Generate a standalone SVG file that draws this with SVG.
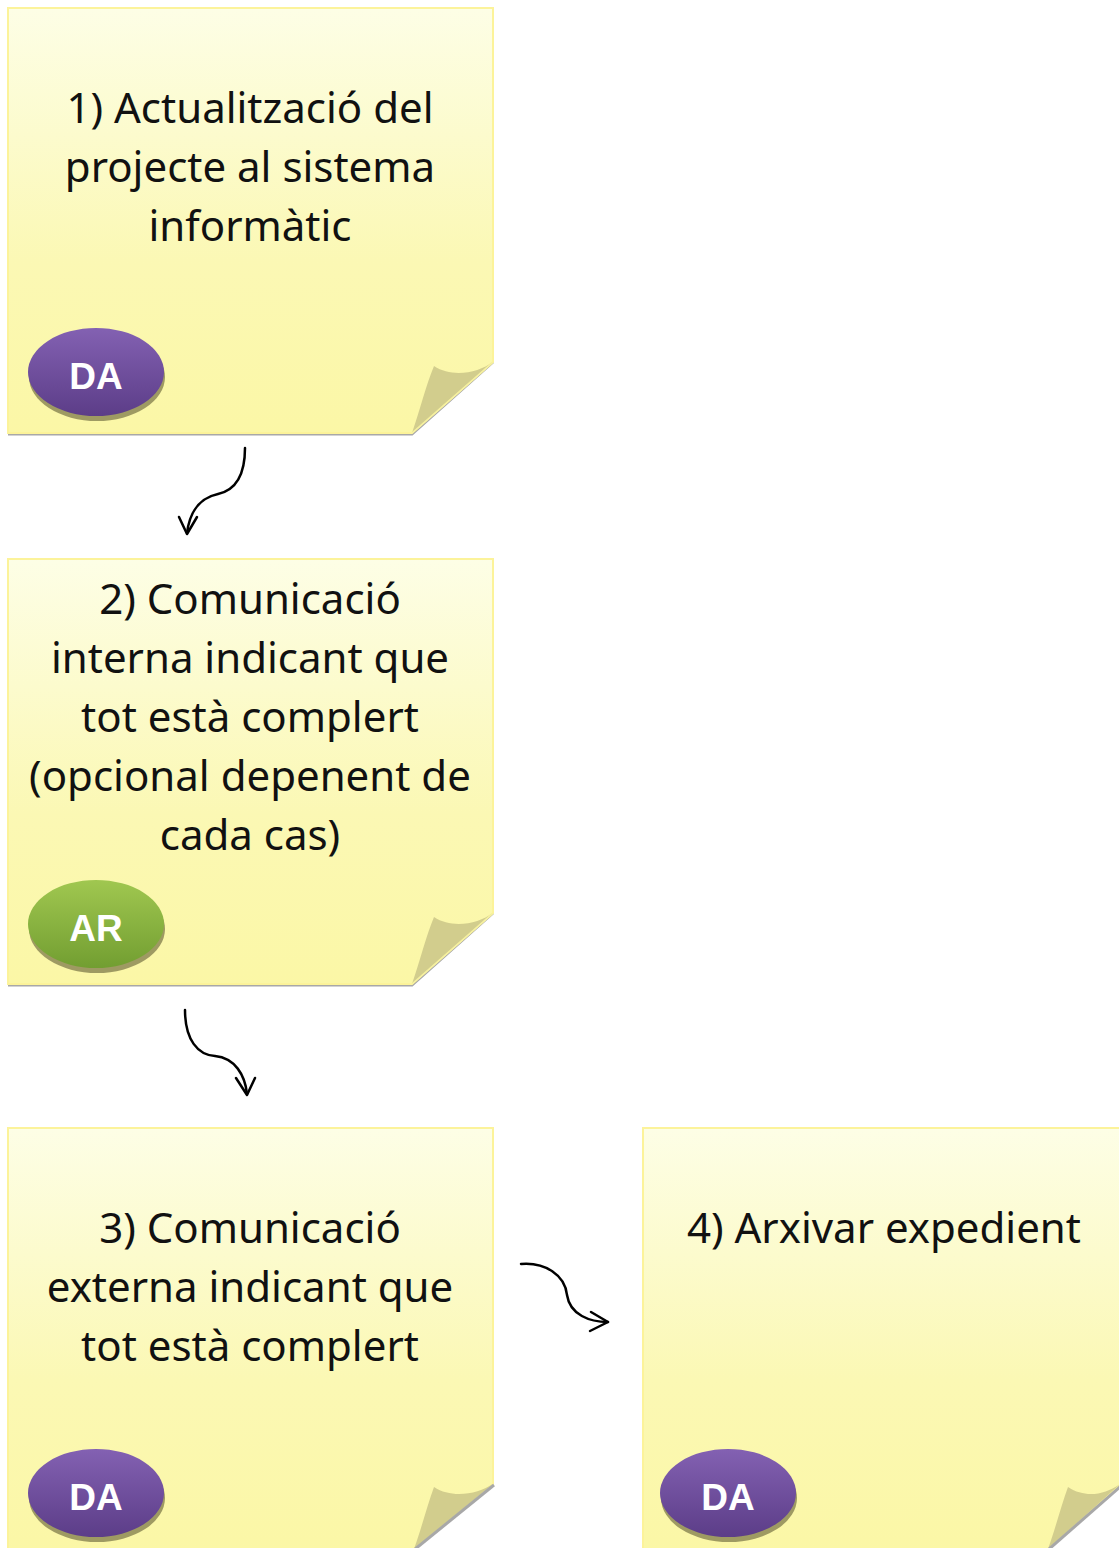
<svg xmlns="http://www.w3.org/2000/svg" width="1119" height="1548" viewBox="0 0 1119 1548">
<defs>
<linearGradient id="paper" x1="0" y1="0" x2="0" y2="1">
<stop offset="0" stop-color="#FDFEE6"/>
<stop offset="0.6" stop-color="#FBF8B4"/>
<stop offset="1" stop-color="#FBF7A6"/>
</linearGradient>
<linearGradient id="purple" x1="0" y1="0" x2="0" y2="1">
<stop offset="0" stop-color="#8361B2"/>
<stop offset="1" stop-color="#5C3D88"/>
</linearGradient>
<linearGradient id="green" x1="0" y1="0" x2="0" y2="1">
<stop offset="0" stop-color="#A0C750"/>
<stop offset="1" stop-color="#729E31"/>
</linearGradient>
</defs>
<style>
.note{fill:url(#paper);stroke:#FCF39A;stroke-width:2}
.shadow{fill:none;stroke:#A8A8A8;stroke-width:3}
.curl{fill:#D2CD8D}
.curlEdge{fill:none;stroke:#F6F1A0;stroke-width:1.5}
.txt{font-family:"Noto Sans","Open Sans",sans-serif;font-size:42px;fill:#111;text-anchor:middle}
.badge{font-family:"Liberation Sans",Arial,sans-serif;font-weight:bold;font-size:37px;fill:#fff;text-anchor:middle}
.bshadow{fill:#9E9A62}
.conn{fill:none;stroke:#000;stroke-width:2.5;stroke-linecap:round;stroke-linejoin:round}
</style>

<g id="node1">
<path class="shadow" d="M8,434 H412 L493,362"/>
<path class="note" d="M8,8 H493 V362 L412,433 H8 Z"/>
<path class="curl" d="M412,433 C420,410 426,385 434,366 C452,378 478,373 493,362 Z"/>
<path class="curlEdge" d="M412,433 L493,362"/>
<text class="txt" x="250" y="123">1) Actualització del</text>
<text class="txt" x="250" y="182">projecte al sistema</text>
<text class="txt" x="250" y="241">informàtic</text>
<ellipse class="bshadow" cx="97" cy="377" rx="68" ry="44"/>
<ellipse cx="96" cy="372" rx="68" ry="44" fill="url(#purple)"/>
<text class="badge" x="96" y="389">DA</text>
</g>

<g id="node2">
<path class="shadow" d="M8,985 H412 L493,913"/>
<path class="note" d="M8,559 H493 V913 L412,984 H8 Z"/>
<path class="curl" d="M412,984 C420,961 426,936 434,917 C452,929 478,924 493,913 Z"/>
<path class="curlEdge" d="M412,984 L493,913"/>
<text class="txt" x="250" y="614">2) Comunicació</text>
<text class="txt" x="250" y="673">interna indicant que</text>
<text class="txt" x="250" y="732">tot està complert</text>
<text class="txt" x="250" y="791">(opcional depenent de</text>
<text class="txt" x="250" y="850">cada cas)</text>
<ellipse class="bshadow" cx="97" cy="929" rx="68" ry="44"/>
<ellipse cx="96" cy="924" rx="68" ry="44" fill="url(#green)"/>
<text class="badge" x="96" y="941">AR</text>
</g>

<g id="node3">
<path class="note" d="M8,1128 H493 V1484 L414,1549 H8 Z"/>
<path class="curl" d="M414,1549 C421,1530 427,1506 434,1487 C452,1499 478,1494 493,1484 Z"/>
<path class="shadow" d="M414,1550 L494,1485"/>
<text class="txt" x="250" y="1243">3) Comunicació</text>
<text class="txt" x="250" y="1302">externa indicant que</text>
<text class="txt" x="250" y="1361">tot està complert</text>
<ellipse class="bshadow" cx="97" cy="1498" rx="68" ry="44"/>
<ellipse cx="96" cy="1493" rx="68" ry="44" fill="url(#purple)"/>
<text class="badge" x="96" y="1510">DA</text>
</g>

<g id="node4">
<path class="note" d="M643,1128 H1121 V1484 L1048,1549 H643 Z"/>
<path class="curl" d="M1048,1549 C1055,1530 1061,1506 1068,1487 C1086,1499 1106,1494 1120,1484 Z"/>
<path class="shadow" d="M1048,1550 L1121,1486"/>
<text class="txt" x="884" y="1243">4) Arxivar expedient</text>
<ellipse class="bshadow" cx="729" cy="1498" rx="68" ry="44"/>
<ellipse cx="728" cy="1493" rx="68" ry="44" fill="url(#purple)"/>
<text class="badge" x="728" y="1510">DA</text>
</g>

<g id="connectors">
<path class="conn" d="M245,448 C245,475 236,490 218,494 C200,498 190,510 187,533"/>
<path class="conn" d="M179,517 L187,534 L197,517"/>
<path class="conn" d="M185,1010 C185,1040 198,1055 215,1056 C235,1058 245,1075 247,1094"/>
<path class="conn" d="M236,1078 L247,1095 L255,1078"/>
<path class="conn" d="M521,1264 C545,1262 565,1275 567,1295 C570,1315 590,1322 608,1322"/>
<path class="conn" d="M591,1312 L608,1322 L590,1331"/>
</g>
</svg>
